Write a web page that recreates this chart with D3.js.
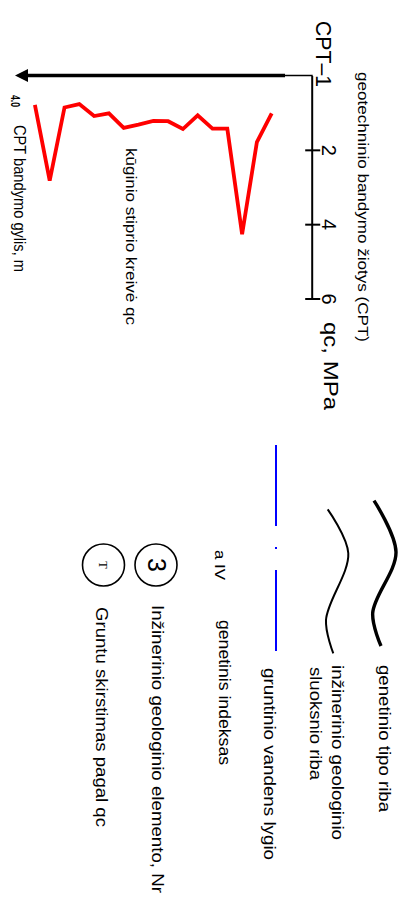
<!DOCTYPE html>
<html>
  <head>
    <meta charset="utf-8" />
    <style>
      body {
        margin: 0;
        background: #fff;
      }
      svg text {
        font-family: "Liberation Sans", Arial, sans-serif;
        fill: #000;
      }
    </style>
    <script src="https://d3js.org/d3.v7.min.js"></script>
  </head>

  <body>
    <script>
      const width = 406;
      const height = 906;

      // CPT-1 sounding: depth (m) and cone resistance qc (MPa)
      const depths = [0.6, 0.8, 1.0, 1.2, 1.4, 1.6, 1.8, 2.0, 2.2, 2.4, 2.6, 2.8, 3.0, 3.2, 3.4, 3.6, 3.8];
      const qcValues = [1.02, 1.79, 4.27, 1.43, 1.43, 1.07, 1.44, 1.23, 1.22, 1.32, 1.41, 1.02, 1.09, 0.77, 0.86, 2.83, 0.79];
      const qcTicks = [2, 4, 6];
      const depthLabel = "4.0";

      const svg = d3
        .select("body")
        .append("svg")
        .attr("width", width)
        .attr("height", height);

      // the whole sheet is drawn landscape (906 x 406) and turned 90deg
      const g = svg.append("g").attr("transform", "translate(" + width + ",0) rotate(90)");

      const qcScale = d3.scaleLinear().domain([0, 6]).range([75.5, 298.5]);
      const depthScale = d3.scaleLinear().domain([0, 4]).range([89.9, 385.9]);
      const axisY = 93.3;

      function label(txt, x, y, size, len, opts) {
        opts = opts || {};
        const t = g
          .append("text")
          .attr("x", x)
          .attr("y", y)
          .style("font-size", size + "px")
          .text(txt);
        if (len) t.attr("textLength", len).attr("lengthAdjust", "spacingAndGlyphs");
        if (opts.anchor) t.attr("text-anchor", opts.anchor);
        if (opts.weight) t.style("font-weight", opts.weight);
        if (opts.family) t.style("font-family", opts.family);
        return t;
      }

      // qc axis
      const qcAxis = d3
        .axisTop(qcScale)
        .tickValues(qcTicks)
        .tickFormat(d3.format("d"))
        .tickSizeInner(7.5)
        .tickSizeOuter(0)
        .tickPadding(2);
      const ax = g
        .append("g")
        .attr("transform", "translate(0," + axisY + ")")
        .call(qcAxis);
      ax.select(".domain").attr("stroke-width", 2);
      ax.selectAll(".tick line").attr("y1", 7.5).attr("stroke-width", 2);
      ax.selectAll(".tick text")
        .style("font-size", "20px")
        .style("font-family", '"Liberation Sans", Arial, sans-serif')
        .attr("fill", "#000");

      // depth axis (arrow pointing down)
      const x0 = qcScale(0);
      g.append("line")
        .attr("x1", x0).attr("x2", x0)
        .attr("y1", axisY).attr("y2", 121)
        .attr("stroke", "#000").attr("stroke-width", 1.5);
      g.append("line")
        .attr("x1", x0).attr("x2", x0)
        .attr("y1", 121).attr("y2", 379)
        .attr("stroke", "#000").attr("stroke-width", 3.5);
      g.append("path")
        .attr("d", "M" + (x0 - 6.5) + ",378 L" + (x0 + 6.5) + ",378 L" + x0 + ",391 Z")
        .attr("fill", "#000");

      // qc curve
      const line = d3
        .line()
        .x((d, i) => qcScale(qcValues[i]))
        .y((d) => depthScale(d));
      g.append("path")
        .datum(depths)
        .attr("d", line)
        .attr("fill", "none")
        .attr("stroke", "#ff0000")
        .attr("stroke-width", 3.8);

      // chart texts
      label("CPT\u20131", 87, 90, 22, 66, { anchor: "end" });
      label("qc,  MPa", 322, 82, 21, 88);
      label("geotechninio bandymo \u017eiotys (CPT)", 72, 48, 15, 270);
      label("k\u016bginio stiprio kreiv\u0117 qc", 148, 280, 15.5, 177);
      label(depthLabel, 95, depthScale(4) + 9.5, 13, 12, { weight: "bold" });
      label("CPT bandymo gylis, m", 125, 392, 16, 147);

      // legend symbols
      const wave = d3.line().curve(d3.curveCatmullRom.alpha(0.5));
      g.append("path")
        .attr("d", wave([[500.7, 32], [552, 10], [613, 33.3], [646, 25]]))
        .attr("fill", "none").attr("stroke", "#000").attr("stroke-width", 3.4);
      g.append("path")
        .attr("d", wave([[509.3, 78.3], [553.3, 57.7], [620, 80], [653.3, 72.7]]))
        .attr("fill", "none").attr("stroke", "#000").attr("stroke-width", 2);
      g.append("line")
        .attr("x1", 445).attr("x2", 651)
        .attr("y1", 130).attr("y2", 130)
        .attr("stroke", "#0000ff").attr("stroke-width", 2)
        .attr("stroke-dasharray", "81,21,2,21");

      g.append("circle").attr("cx", 565).attr("cy", 250).attr("r", 21)
        .attr("fill", "none").attr("stroke", "#000").attr("stroke-width", 1.6);
      label("3", 565, 258.5, 25, null, { anchor: "middle" });
      g.append("circle").attr("cx", 565).attr("cy", 302.5).attr("r", 21)
        .attr("fill", "none").attr("stroke", "#000").attr("stroke-width", 1.6);
      label("T", 565, 307, 12, null, { anchor: "middle", family: '"Liberation Serif", serif' });

      // legend texts
      label("genetinio tipo riba", 665, 27, 16, 147);
      label("in\u017einerinio geologinio", 665, 74, 16, 175);
      label("sluoksnio riba", 667, 96, 16, 113);
      label("gruntinio vandens lygio", 668, 142, 16, 192);
      label("a IV", 550, 191, 15, 30);
      label("genetinis indeksas", 620, 187.5, 16, 145);
      label("In\u017einerinio geologinio elemento,  Nr", 605, 254, 17, 288);
      label("Gruntu skirstimas pagal qc", 607, 310, 16.5, 220);
    </script>
  </body>
</html>
